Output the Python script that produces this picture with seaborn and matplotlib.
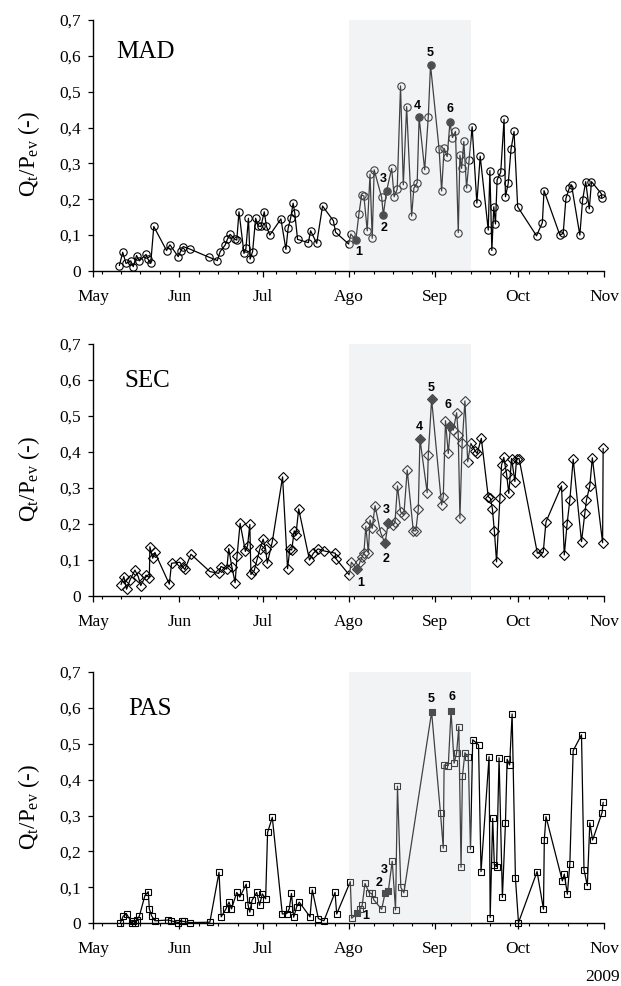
import numpy as np
import pandas as pd
import matplotlib
matplotlib.use("Agg")
import matplotlib.pyplot as plt
import matplotlib.dates as mdates
from matplotlib.ticker import FixedLocator, FixedFormatter
import seaborn as sns

# ---------------- data (x = days after 1 May 2009) ----------------
mad_days = [9.4, 10.6, 11.8, 13.5, 14.4, 15.6, 16.6, 19.0, 19.7, 20.7,
            21.8, 26.4, 27.6, 30.6, 31.5, 32.4, 34.8, 41.8, 44.7, 45.7,
            47.5, 48.3, 49.3, 51.1, 51.7, 52.5, 54.3, 55.0, 55.9, 56.5,
            57.4, 58.5, 59.4, 60.4, 61.6, 62.4, 63.6, 67.6, 69.4, 70.2,
            71.1, 72.0, 72.6, 73.6, 77.5, 78.3, 80.5, 82.6, 86.5, 87.3,
            92.0, 92.8, 94.6, 95.7, 96.7, 97.5, 98.7, 99.7, 100.5, 101.2,
            103.9, 104.5, 105.7, 107.5, 108.4, 109.5, 110.7, 111.7, 112.9, 114.7,
            115.5, 116.7, 117.4, 119.4, 120.7, 121.5, 124.6, 125.5, 126.4, 127.5,
            128.5, 129.4, 130.5, 131.5, 132.1, 132.7, 133.5, 134.5, 135.4, 136.5,
            138.2, 139.4, 142.3, 142.9, 143.6, 144.3, 144.9, 145.5, 146.8, 148.0,
            148.5, 149.5, 150.5, 151.6, 152.9, 159.7, 161.8, 162.4, 168.1, 169.3,
            170.3, 171.5, 172.3, 175.3, 176.3, 177.4, 178.7, 179.5, 183.1, 183.2]
mad_vals = [0.015, 0.052, 0.021, 0.028, 0.012, 0.043, 0.028, 0.046, 0.033, 0.021,
            0.124, 0.057, 0.073, 0.040, 0.055, 0.068, 0.061, 0.038, 0.029, 0.054,
            0.072, 0.088, 0.102, 0.088, 0.086, 0.165, 0.049, 0.063, 0.147, 0.033,
            0.054, 0.147, 0.125, 0.124, 0.165, 0.124, 0.100, 0.145, 0.060, 0.119,
            0.147, 0.189, 0.161, 0.088, 0.079, 0.112, 0.077, 0.181, 0.140, 0.108,
            0.075, 0.103, 0.086, 0.159, 0.212, 0.209, 0.112, 0.270, 0.091, 0.282,
            0.205, 0.156, 0.224, 0.286, 0.207, 0.228, 0.516, 0.240, 0.458, 0.153,
            0.231, 0.246, 0.428, 0.282, 0.430, 0.574, 0.339, 0.223, 0.342, 0.319,
            0.414, 0.372, 0.389, 0.107, 0.323, 0.286, 0.361, 0.231, 0.310, 0.402,
            0.189, 0.320, 0.114, 0.280, 0.057, 0.179, 0.131, 0.254, 0.275, 0.423,
            0.207, 0.244, 0.339, 0.389, 0.179, 0.098, 0.135, 0.224, 0.100, 0.105,
            0.203, 0.231, 0.240, 0.100, 0.198, 0.249, 0.173, 0.249, 0.215, 0.203]
mad_event_labels = ["1", "2", "3", "4", "5", "6"]
mad_event_days = [94.6, 104.5, 105.7, 117.4, 121.5, 128.5]
mad_event_vals = [0.086, 0.156, 0.224, 0.428, 0.574, 0.414]

sec_days = [10.0, 11.0, 12.0, 13.2, 15.0, 16.2, 17.1, 19.0, 20.2, 20.4,
            21.4, 22.2, 27.4, 28.2, 31.2, 32.2, 33.0, 35.2, 42.0, 45.2,
            46.0, 48.1, 48.8, 49.9, 51.1, 51.8, 52.9, 54.8, 55.6, 56.4,
            56.8, 58.0, 59.0, 60.0, 61.2, 62.1, 62.7, 64.5, 68.2, 70.0,
            70.8, 71.5, 72.4, 73.0, 74.0, 77.9, 79.3, 81.0, 83.3, 87.2,
            87.4, 92.2, 93.0, 95.1, 96.1, 96.9, 97.5, 98.2, 99.1, 99.7,
            100.5, 101.5, 103.5, 105.1, 106.3, 108.1, 108.7, 109.6, 110.7, 111.9,
            113.1, 115.3, 116.2, 117.1, 117.7, 120.3, 120.7, 121.9, 125.5, 126.1,
            126.9, 127.9, 128.7, 129.7, 130.9, 131.5, 132.1, 132.9, 133.9, 134.9,
            136.0, 137.5, 138.3, 139.8, 142.3, 143.1, 143.8, 144.5, 145.3, 146.5,
            147.1, 147.9, 148.9, 149.7, 150.7, 151.9, 152.5, 153.4, 160.0, 162.1,
            163.1, 168.7, 169.7, 170.7, 171.7, 172.9, 175.9, 177.1, 177.7, 178.9,
            179.8, 183.5, 183.7]
sec_vals = [0.032, 0.054, 0.019, 0.044, 0.072, 0.054, 0.029, 0.058, 0.051, 0.137,
            0.105, 0.121, 0.033, 0.091, 0.094, 0.081, 0.074, 0.116, 0.068, 0.063,
            0.082, 0.075, 0.132, 0.082, 0.037, 0.111, 0.202, 0.124, 0.140, 0.199,
            0.060, 0.071, 0.101, 0.130, 0.158, 0.130, 0.091, 0.151, 0.331, 0.076,
            0.130, 0.128, 0.181, 0.169, 0.242, 0.100, 0.119, 0.131, 0.125, 0.119,
            0.104, 0.059, 0.094, 0.074, 0.095, 0.109, 0.120, 0.194, 0.120, 0.211,
            0.188, 0.251, 0.177, 0.146, 0.204, 0.197, 0.205, 0.306, 0.234, 0.225,
            0.350, 0.181, 0.181, 0.241, 0.436, 0.287, 0.392, 0.546, 0.253, 0.276,
            0.487, 0.396, 0.472, 0.461, 0.509, 0.447, 0.216, 0.424, 0.542, 0.373,
            0.424, 0.404, 0.396, 0.438, 0.276, 0.271, 0.242, 0.181, 0.095, 0.271,
            0.364, 0.385, 0.339, 0.285, 0.382, 0.318, 0.382, 0.382, 0.119, 0.121,
            0.206, 0.306, 0.114, 0.200, 0.267, 0.380, 0.151, 0.230, 0.267, 0.306,
            0.384, 0.148, 0.410]
sec_event_labels = ["1", "2", "3", "4", "5", "6"]
sec_event_days = [95.1, 105.1, 106.3, 117.7, 121.9, 128.7]
sec_event_vals = [0.074, 0.146, 0.204, 0.436, 0.546, 0.472]

pas_days = [9.8, 10.8, 12.0, 13.8, 14.4, 15.0, 15.6, 16.6, 18.6, 19.8,
            20.2, 21.0, 22.2, 27.0, 28.0, 30.6, 31.8, 32.8, 34.8, 42.0,
            45.3, 46.1, 47.8, 48.9, 49.8, 51.7, 52.8, 55.1, 55.8, 56.4,
            57.2, 58.9, 59.9, 60.9, 62.1, 62.8, 64.5, 68.1, 69.7, 70.6,
            71.4, 72.2, 73.3, 74.2, 78.1, 78.9, 81.1, 83.1, 87.1, 87.7,
            92.6, 93.1, 95.1, 96.1, 96.9, 97.9, 99.4, 100.3, 101.1, 103.9,
            105.1, 106.3, 107.7, 108.9, 109.6, 110.8, 111.9, 121.9, 125.1, 126.1,
            126.4, 127.9, 128.9, 130.0, 130.9, 131.7, 132.5, 133.0, 133.9, 135.1,
            135.9, 136.7, 138.8, 139.7, 142.6, 143.0, 143.9, 144.5, 145.3, 146.2,
            147.4, 148.5, 149.1, 150.0, 150.9, 152.1, 153.2, 159.9, 162.2, 162.5,
            163.1, 169.0, 169.7, 170.8, 171.7, 172.9, 175.9, 176.8, 178.0, 178.9,
            179.9, 183.3, 183.7]
pas_vals = [0.002, 0.020, 0.026, 0.002, 0.007, 0.000, 0.009, 0.020, 0.077, 0.088,
            0.040, 0.021, 0.007, 0.009, 0.007, 0.002, 0.006, 0.005, 0.002, 0.003,
            0.142, 0.018, 0.040, 0.059, 0.040, 0.086, 0.073, 0.109, 0.050, 0.031,
            0.064, 0.086, 0.050, 0.082, 0.068, 0.253, 0.295, 0.026, 0.027, 0.040,
            0.083, 0.017, 0.046, 0.059, 0.018, 0.093, 0.013, 0.007, 0.086, 0.026,
            0.116, 0.014, 0.028, 0.039, 0.051, 0.111, 0.085, 0.083, 0.065, 0.039,
            0.083, 0.090, 0.173, 0.037, 0.382, 0.100, 0.085, 0.588, 0.306, 0.209,
            0.441, 0.439, 0.591, 0.446, 0.474, 0.548, 0.156, 0.409, 0.475, 0.462,
            0.206, 0.511, 0.497, 0.144, 0.464, 0.016, 0.292, 0.162, 0.158, 0.461,
            0.072, 0.279, 0.457, 0.441, 0.583, 0.125, 0.002, 0.144, 0.039, 0.232,
            0.297, 0.118, 0.137, 0.081, 0.165, 0.481, 0.525, 0.149, 0.105, 0.280,
            0.232, 0.308, 0.337]
pas_event_labels = ["1", "2", "3", "5", "6"]
pas_event_days = [95.1, 105.1, 106.3, 121.9, 128.9]
pas_event_vals = [0.028, 0.083, 0.090, 0.588, 0.591]

panel_names = ["MAD", "SEC", "PAS"]
month_ticks = ["2009-05-01", "2009-06-01", "2009-07-01", "2009-08-01",
               "2009-09-01", "2009-10-01", "2009-11-01"]
month_labels = ["May", "Jun", "Jul", "Ago", "Sep", "Oct", "Nov"]
ytick_vals = [0, 0.1, 0.2, 0.3, 0.4, 0.5, 0.6, 0.7]
ytick_labels = ["0", "0,1", "0,2", "0,3", "0,4", "0,5", "0,6", "0,7"]
shade_start, shade_end = "2009-08-01", "2009-09-14"
year_label = "2009"

# ---------------- style ----------------
sns.set_theme(style="ticks")
plt.rcParams["font.family"] = ["Liberation Serif", "DejaVu Serif"]
plt.rcParams["mathtext.fontset"] = "custom"
plt.rcParams["mathtext.rm"] = "Liberation Serif"
plt.rcParams["mathtext.it"] = "Liberation Serif:italic"

start = pd.Timestamp("2009-05-01")


def to_dates(days):
    return start + pd.to_timedelta(np.asarray(days, dtype=float), unit="D")


fig = plt.figure(figsize=(6.21, 9.86), dpi=100)
positions = [[0.1502, 0.7252, 0.8224, 0.2546],
             [0.1502, 0.3955, 0.8224, 0.2556],
             [0.1502, 0.0636, 0.8224, 0.2549]]

series = [
    (mad_days, mad_vals, mad_event_days, mad_event_vals, mad_event_labels, "o", 5.3, 22),
    (sec_days, sec_vals, sec_event_days, sec_event_vals, sec_event_labels, "D", 4.6, 20),
    (pas_days, pas_vals, pas_event_days, pas_event_vals, pas_event_labels, "s", 4.4, 22),
]
# label offsets (points) relative to marker
label_offsets = [
    {"1": (2.4, -8.6), "2": (0.7, -9.6), "3": (-2.4, 8.6), "4": (-1.2, 8.6), "5": (0, 8.4), "6": (0, 9.4)},
    {"1": (2.4, -9.6), "2": (0.5, -11.3), "3": (-1.2, 9.1), "4": (-0.5, 8.9), "5": (-0.7, 8.6), "6": (-1.7, 15.1)},
    {"1": (6.3, -2.2), "2": (-4.3, 7.2), "3": (-2.9, 15.1), "5": (-0.5, 9.6), "6": (0.5, 9.9)},
]
name_pos = [(0.044, 0.847), (0.060, 0.830), (0.0686, 0.829)]

for i, (days, vals, ed, ev, el, mk, ms, s) in enumerate(series):
    ax = fig.add_axes(positions[i])
    df = pd.DataFrame({"date": to_dates(days), "value": vals})
    sns.lineplot(data=df, x="date", y="value", ax=ax, estimator=None, sort=False,
                 color="black", linewidth=0.9, marker=mk, markersize=ms,
                 markerfacecolor="none", markeredgecolor="black",
                 markeredgewidth=0.8, zorder=2, clip_on=False)
    edf = pd.DataFrame({"date": to_dates(ed), "value": ev})
    sns.scatterplot(data=edf, x="date", y="value", ax=ax, marker=mk, s=s,
                    color="#111111", edgecolor="#111111", linewidth=0.5,
                    zorder=3, clip_on=False)
    # shaded period (drawn over the data, semi-transparent)
    ax.axvspan(pd.Timestamp(shade_start), pd.Timestamp(shade_end),
               color=(215 / 255, 218 / 255, 222 / 255), alpha=0.3, lw=0, zorder=4)
    for lab, d, v in zip(el, to_dates(ed), ev):
        ax.annotate(lab, (d, v), xytext=label_offsets[i][lab], textcoords="offset points",
                    ha="center", va="center", fontsize=9, fontweight="bold",
                    family=["Liberation Sans", "DejaVu Sans"], color="black", zorder=6)

    ax.set_xlim(pd.Timestamp(month_ticks[0]), pd.Timestamp(month_ticks[-1]))
    ax.set_ylim(0, 0.7)
    ax.xaxis.set_major_locator(FixedLocator(mdates.date2num(pd.to_datetime(month_ticks))))
    ax.xaxis.set_major_formatter(FixedFormatter(month_labels))
    ax.xaxis.set_minor_locator(mdates.WeekdayLocator(byweekday=mdates.MO))
    ax.yaxis.set_major_locator(FixedLocator(ytick_vals))
    ax.yaxis.set_major_formatter(FixedFormatter(ytick_labels))
    ax.tick_params(axis="x", which="major", direction="out", length=4.0, width=0.9,
                   labelsize=12.5, pad=9, colors="black")
    ax.tick_params(axis="x", which="minor", direction="out", length=2.4, width=0.8,
                   colors="black")
    ax.tick_params(axis="y", which="major", direction="out", length=3.5, width=0.9,
                   labelsize=12.5, pad=5, colors="black")
    for sp in ["top", "right"]:
        ax.spines[sp].set_visible(False)
    for sp in ["left", "bottom"]:
        ax.spines[sp].set_color("black")
        ax.spines[sp].set_linewidth(1.0)
    ax.set_xlabel("")
    ax.set_ylabel(r"Q$_\mathrm{t}$/P$_\mathrm{ev}$ (-)", fontsize=16.5, color="black")
    ax.yaxis.set_label_coords(-0.10, 0.465)
    ax.text(name_pos[i][0], name_pos[i][1], panel_names[i], transform=ax.transAxes,
            fontsize=18, ha="left", va="baseline", color="black")
    ax.set_facecolor("white")

fig.text(0.943, 0.005, year_label, fontsize=12.5, ha="left", va="baseline", color="black")
fig.savefig("out.png", dpi=100, facecolor="white")
